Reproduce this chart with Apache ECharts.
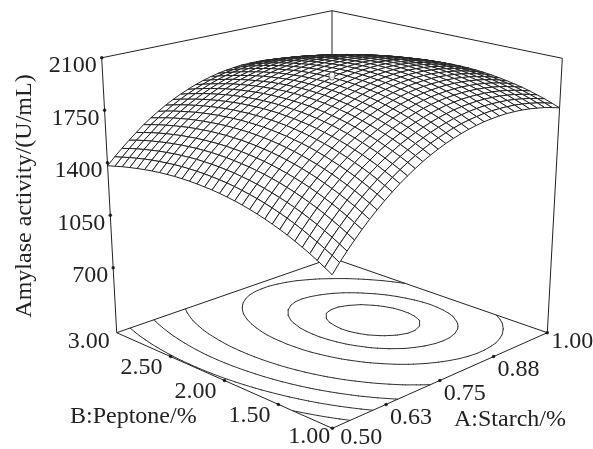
<!DOCTYPE html>
<html><head><meta charset="utf-8"><style>html,body{margin:0;background:#fff}#c{width:593px;height:449px}</style>
<script src="https://cdn.jsdelivr.net/npm/echarts@6/dist/echarts.min.js"></script></head><body><div id="c"></div><script>
const starchTicks=['0.50','0.63','0.75','0.88','1.00'];
const peptoneTicks=['1.00','1.50','2.00','2.50','3.00'];
const activityTicks=[700,1050,1400,1750,2100];
const activityMin=267, activityMax=2100;
const contourLevels=[1315,1465,1600,1730,1871,1945,1983];
const centerPoint=2005;
// amylase activity: one row per peptone step (1.00 to 3.00), one column per starch step (0.50 to 1.00)
const surface=[
[1180,1237,1290,1341,1390,1436,1479,1520,1559,1595,1628,1659,1688,1714,1737,1758,1776,1792,1805,1816,1825,1830,1834,1835,1833,1829,1822,1812,1801,1786,1769],
[1208,1264,1317,1368,1416,1462,1505,1546,1584,1620,1653,1684,1712,1737,1761,1781,1799,1815,1828,1838,1846,1852,1855,1855,1853,1849,1842,1832,1820,1805,1788],
[1234,1290,1343,1393,1441,1487,1530,1570,1608,1644,1676,1707,1735,1760,1783,1803,1821,1836,1849,1859,1867,1872,1875,1875,1872,1868,1860,1850,1838,1823,1806],
[1259,1314,1367,1417,1465,1510,1553,1593,1631,1666,1698,1728,1756,1781,1803,1823,1841,1856,1868,1878,1886,1890,1893,1893,1890,1885,1877,1867,1854,1839,1821],
[1282,1337,1390,1440,1487,1532,1574,1614,1652,1686,1719,1748,1776,1800,1823,1842,1859,1874,1886,1896,1903,1908,1910,1909,1906,1901,1893,1882,1869,1854,1836],
[1304,1359,1411,1461,1508,1552,1594,1634,1671,1706,1737,1767,1794,1818,1840,1860,1877,1891,1903,1912,1919,1923,1925,1924,1921,1915,1907,1896,1883,1867,1849],
[1325,1379,1431,1480,1527,1571,1613,1652,1689,1723,1755,1784,1811,1835,1857,1876,1892,1906,1918,1927,1933,1937,1939,1938,1934,1928,1920,1909,1895,1879,1860],
[1344,1398,1449,1498,1545,1589,1630,1669,1706,1740,1771,1800,1826,1850,1871,1890,1907,1920,1932,1940,1946,1950,1951,1950,1946,1940,1931,1920,1906,1889,1870],
[1361,1415,1466,1515,1561,1605,1646,1685,1721,1755,1786,1814,1840,1864,1885,1903,1919,1933,1944,1952,1958,1961,1962,1961,1957,1950,1941,1929,1915,1898,1879],
[1377,1431,1481,1530,1576,1620,1660,1699,1735,1768,1799,1827,1853,1876,1897,1915,1931,1944,1954,1963,1968,1971,1972,1970,1965,1959,1949,1937,1923,1906,1886],
[1392,1445,1495,1544,1589,1633,1673,1712,1747,1780,1811,1838,1864,1887,1907,1925,1941,1953,1964,1972,1977,1980,1980,1978,1973,1966,1956,1944,1929,1912,1892],
[1405,1458,1508,1556,1601,1645,1685,1723,1758,1791,1821,1848,1874,1896,1916,1934,1949,1962,1972,1979,1984,1987,1987,1984,1979,1972,1961,1949,1934,1916,1896],
[1417,1469,1519,1567,1612,1655,1695,1732,1767,1800,1830,1857,1882,1904,1924,1941,1956,1968,1978,1985,1990,1992,1992,1989,1984,1976,1965,1953,1937,1919,1899],
[1427,1479,1529,1576,1621,1664,1703,1741,1775,1807,1837,1864,1889,1911,1930,1947,1962,1974,1983,1990,1994,1996,1996,1993,1987,1979,1968,1955,1939,1921,1900],
[1436,1488,1537,1584,1628,1671,1711,1747,1782,1814,1843,1870,1894,1916,1935,1951,1966,1977,1987,1993,1997,1999,1998,1995,1989,1980,1969,1956,1940,1921,1900],
[1443,1495,1544,1590,1634,1677,1716,1753,1787,1818,1847,1874,1898,1919,1938,1954,1968,1980,1989,1995,1999,2000,1999,1995,1989,1980,1969,1955,1939,1920,1898],
[1449,1500,1549,1595,1639,1682,1720,1757,1790,1822,1850,1876,1900,1921,1940,1956,1970,1981,1989,1995,1999,2000,1998,1994,1988,1979,1967,1953,1936,1917,1895],
[1453,1504,1553,1599,1642,1685,1723,1759,1793,1824,1852,1878,1901,1922,1940,1956,1969,1980,1988,1994,1997,1998,1996,1992,1985,1976,1964,1949,1932,1913,1891],
[1456,1507,1555,1601,1644,1686,1724,1760,1793,1824,1852,1877,1901,1921,1939,1955,1968,1978,1986,1991,1994,1995,1993,1988,1981,1971,1959,1944,1927,1907,1885],
[1458,1508,1556,1602,1645,1687,1724,1760,1793,1823,1851,1876,1899,1919,1937,1952,1965,1975,1982,1987,1990,1990,1988,1983,1975,1965,1953,1938,1920,1900,1878],
[1458,1508,1556,1601,1643,1685,1723,1758,1790,1820,1848,1873,1895,1915,1933,1947,1960,1970,1977,1982,1984,1984,1981,1976,1968,1958,1945,1930,1912,1892,1869],
[1457,1507,1554,1599,1641,1683,1720,1754,1787,1817,1844,1868,1890,1910,1927,1942,1954,1963,1971,1975,1977,1977,1973,1968,1960,1949,1936,1921,1903,1882,1859],
[1454,1504,1550,1595,1637,1678,1715,1750,1782,1811,1838,1862,1884,1903,1920,1935,1946,1956,1962,1967,1968,1968,1964,1958,1950,1939,1926,1910,1892,1871,1847],
[1450,1499,1546,1590,1631,1673,1709,1743,1775,1804,1831,1855,1876,1895,1912,1926,1937,1946,1953,1957,1958,1957,1953,1947,1939,1928,1914,1898,1879,1858,1834],
[1444,1493,1539,1583,1625,1666,1702,1736,1767,1796,1822,1846,1867,1886,1902,1916,1927,1936,1942,1946,1947,1945,1941,1935,1926,1915,1901,1884,1865,1844,1819],
[1437,1486,1532,1575,1616,1657,1693,1727,1758,1786,1812,1836,1857,1875,1891,1904,1915,1924,1930,1933,1934,1932,1928,1921,1912,1900,1886,1869,1850,1828,1803],
[1428,1477,1522,1566,1607,1647,1683,1716,1747,1775,1801,1824,1845,1863,1878,1891,1902,1910,1916,1919,1919,1917,1913,1906,1896,1884,1869,1852,1833,1811,1786],
[1418,1466,1512,1555,1595,1636,1671,1704,1735,1762,1788,1811,1831,1849,1864,1877,1887,1895,1900,1903,1903,1901,1896,1889,1879,1867,1852,1834,1814,1792,1767],
[1407,1455,1500,1543,1583,1623,1658,1691,1721,1748,1773,1796,1816,1834,1849,1861,1871,1879,1884,1886,1886,1883,1878,1871,1860,1848,1833,1815,1795,1772,1747],
[1394,1441,1486,1529,1568,1609,1643,1676,1706,1733,1758,1780,1800,1817,1832,1844,1853,1861,1865,1867,1867,1864,1859,1851,1840,1827,1812,1794,1773,1750,1725],
[1380,1427,1471,1513,1553,1593,1627,1659,1689,1716,1740,1762,1782,1799,1813,1825,1834,1841,1846,1847,1847,1844,1838,1830,1819,1806,1790,1772,1751,1727,1702]
];
const N=surface.length;

const F={front:[332.3,428.3],right:[547.3,332.7],left:[116.7,332.7],back:[332,258]};
const T={front:[332,120],right:[562.3,58.3],left:[101.7,57.8],back:[332,10.7]};
function bl(C,u,v,k){return C.front[k]*(1-u)*(1-v)+C.right[k]*u*(1-v)+C.left[k]*(1-u)*v+C.back[k]*u*v;}
function proj(u,v,z){const c=(z-activityMin)/(activityMax-activityMin);return [bl(F,u,v,0)*(1-c)+bl(T,u,v,0)*c,bl(F,u,v,1)*(1-c)+bl(T,u,v,1)*c];}

const cells=[];for(let j=N-2;j>=0;j--)for(let i=N-2;i>=0;i--)cells.push([i,j]);
cells.sort((a,b)=>(b[0]+b[1])-(a[0]+a[1]));

const segs=[];
contourLevels.forEach(L=>{for(let j=0;j<N-1;j++)for(let i=0;i<N-1;i++){
 const q=[[i,j],[i+1,j],[i+1,j+1],[i,j+1]];const pts=[];
 for(let k=0;k<4;k++){const a=q[k],b=q[(k+1)%4],za=surface[a[1]][a[0]],zb=surface[b[1]][b[0]];
  if((za<L)!==(zb<L)){const t=(L-za)/(zb-za);pts.push([(a[0]+t*(b[0]-a[0]))/(N-1),(a[1]+t*(b[1]-a[1]))/(N-1)]);}}
 if(pts.length>=2)segs.push([pts[0][0],pts[0][1],pts[1][0],pts[1][1]]);
 if(pts.length==4)segs.push([pts[2][0],pts[2][1],pts[3][0],pts[3][1]]);
}});

const z0=activityMin,z1=activityMax;
const edges=[
 [proj(0,1,z0),proj(1,1,z0)],[proj(1,1,z0),proj(1,0,z0)],[proj(0,0,z0),proj(1,0,z0)],[proj(0,0,z0),proj(0,1,z0)],
 [proj(0,1,z0),proj(0,1,z1)],[proj(1,0,z0),proj(1,0,z1)],[proj(1,1,z0),proj(1,1,z1)],
 [proj(0,1,z1),proj(1,1,z1)],[proj(1,1,z1),proj(1,0,z1)]];
const dots=[];const labels=[];
const TF='"Liberation Serif"';
starchTicks.forEach((t,k)=>{const p=proj(k/4,0,z0);dots.push(p);
 const o=k==0?[29,9]:k==4?[25,9]:[25,13];labels.push([p[0]+o[0],p[1]+o[1],t]);});
peptoneTicks.forEach((t,k)=>{const p=proj(0,k/4,z0);if(k>0&&k<4)dots.push(p);
 if(k==0||k==4){const o=k==0?[-23,8]:[-28,9];labels.push([p[0]+o[0],p[1]+o[1],t]);return;}
 labels.push([p[0]-29,p[1]+11.5,t]);});
const zlabels=[];activityTicks.forEach(t=>{const p=proj(0,1,t);dots.push(p);zlabels.push([p[0]-5,p[1]+8,String(t)]);});

const seriesList=[];
seriesList.push({type:'custom',coordinateSystem:'cartesian2d',silent:true,clip:false,animation:false,z:1,data:edges.map((e,i)=>[i,0]),
 renderItem(p,api){const e=edges[api.value(0)];return {type:'line',shape:{x1:api.coord(e[0])[0],y1:api.coord(e[0])[1],x2:api.coord(e[1])[0],y2:api.coord(e[1])[1]},style:{stroke:'#222',lineWidth:1}};}});
seriesList.push({type:'custom',coordinateSystem:'cartesian2d',silent:true,clip:false,animation:false,z:2,data:segs.map((e,i)=>[i,0]),
 renderItem(p,api){const e=segs[api.value(0)];const a=api.coord(proj(e[0],e[1],z0)),b=api.coord(proj(e[2],e[3],z0));return {type:'line',shape:{x1:a[0],y1:a[1],x2:b[0],y2:b[1]},style:{stroke:'#333',lineWidth:1,lineCap:'round'}};}});
seriesList.push({type:'scatter',coordinateSystem:'cartesian2d',silent:true,animation:false,z:3,symbolSize:3.5,itemStyle:{color:'#000'},data:dots});
seriesList.push({type:'custom',coordinateSystem:'cartesian2d',silent:true,clip:false,animation:false,progressive:0,z:4,data:cells,
 renderItem(p,api){const i=api.value(0),j=api.value(1);
  const pts=[[i,j],[i+1,j],[i+1,j+1],[i,j+1]].map(q=>api.coord(proj(q[0]/(N-1),q[1]/(N-1),surface[q[1]][q[0]])));
  return {type:'polygon',shape:{points:pts},style:{fill:'#fff',stroke:'#222',lineWidth:1}};}});
seriesList.push({type:'scatter',coordinateSystem:'cartesian2d',silent:true,animation:false,z:5,symbol:'circle',symbolSize:[6,8],itemStyle:{color:'#fff',borderColor:'#333',borderWidth:1},data:[proj(.5,.5,centerPoint)]});
const lab=(arr,align)=>({type:'custom',coordinateSystem:'cartesian2d',silent:true,clip:false,animation:false,z:6,data:arr.map((e,i)=>[i,0]),
 renderItem(p,api){const e=arr[api.value(0)];const c=api.coord(e);return {type:'text',style:{x:c[0],y:c[1],text:e[2],fill:'#222',font:'24px '+TF,align:align,verticalAlign:'middle'}};}});
seriesList.push(lab(labels,'center'));seriesList.push(lab(zlabels,'right'));

const chart=echarts.init(document.getElementById('c'),null,{renderer:'canvas'});
chart.setOption({animation:false,backgroundColor:'#fff',
 grid:{left:0,right:0,top:0,bottom:0},
 xAxis:{type:'value',min:0,max:593,show:false},
 yAxis:{type:'value',min:0,max:449,inverse:true,show:false},
 graphic:[
  {type:'text',x:25,y:196,rotation:Math.PI/2,style:{text:'Amylase activity/(U/mL)',font:'24px '+TF,fill:'#222',align:'center',verticalAlign:'middle'},silent:true},
  {type:'text',x:70,y:417,style:{text:'B:Peptone/%',font:'24px '+TF,fill:'#222',align:'left',verticalAlign:'middle'},silent:true},
  {type:'text',x:454,y:420,style:{text:'A:Starch/%',font:'24px '+TF,fill:'#222',align:'left',verticalAlign:'middle'},silent:true}],
 series:seriesList});
</script></body></html>
